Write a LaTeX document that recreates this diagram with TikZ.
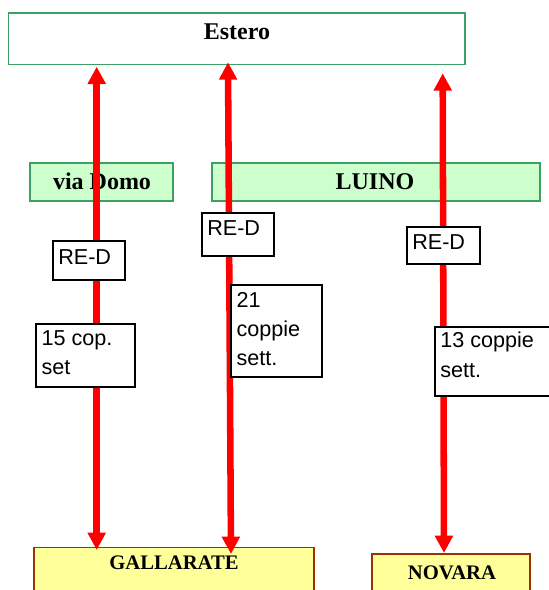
\documentclass[tikz,border=0pt]{standalone}
\usepackage{fontspec}
\setmainfont{Liberation Serif}
\newfontfamily\arialf{Liberation Sans}
\usetikzlibrary{arrows.meta,positioning,fit}

\definecolor{boxgreen}{RGB}{60,160,100}
\definecolor{lightgreen}{RGB}{204,255,204}
\definecolor{boxyellow}{RGB}{255,255,153}
\definecolor{boxbrown}{RGB}{153,51,0}

\tikzset{
  gbox/.style={draw=boxgreen,line width=1.1pt,inner sep=0pt},
  ybox/.style={draw=boxbrown,fill=boxyellow,line width=1.1pt,inner sep=0pt},
  wbox/.style={draw=black,fill=white,line width=1.1pt,inner sep=0pt},
  bigttl/.style={font=\bfseries\fontsize{18}{20}\selectfont,anchor=base,inner sep=0pt},
  smallttl/.style={font=\bfseries\fontsize{15.5}{18}\selectfont,anchor=base,inner sep=0pt},
  lbl/.style={font=\arialf\fontsize{16.2}{22}\selectfont,align=left,inner sep=0pt},
  biarrow/.style={draw=red,line width=4.9pt,
    {Triangle[width=13pt,length=13pt]}-{Triangle[width=13pt,length=13pt]}}
}

\begin{document}
\begin{tikzpicture}[x=0.75pt,y=-0.75pt]
\useasboundingbox (0,0) rectangle (549,590);
\clip (0,0) rectangle (549,590);

% boxes
\node[gbox,fill=white,fit={(8.7,13) (465,64.3)}] (estero) {};
\node[gbox,fill=lightgreen,fit={(30,163) (173,201)}] (domo) {};
\node[gbox,fill=lightgreen,fit={(212,163) (540,201)}] (luino) {};
\node[ybox,fit={(34,547.7) (314,600)}] (gall) {};
\node[ybox,fit={(372,554) (530,600)}] (novara) {};

\node[bigttl] (esterotxt) at (237,39) {Estero};
\node[bigttl] (domotxt) at (102,189) {via Domo};
\node[bigttl] (luinotxt) at (375,189) {LUINO};
\node[smallttl] (galltxt) at (174,569) {GALLARATE};
\node[smallttl] (novaratxt) at (452,579) {NOVARA};

% arrow ends
\coordinate (va) at (96.7,66.7);
\coordinate (vb) at (96.7,550);
\coordinate (la) at (228,62.3);
\coordinate (lb) at (231,554);
\coordinate (na) at (442.7,73.3);
\coordinate (nb) at (444,553);

\draw[biarrow] (va) -- (vb);
\draw[biarrow] (la) -- (lb);
\draw[biarrow] (na) -- (nb);

% labels on the lines
\node[wbox,fit={(53,241) (125,280)}] (red1) {};
\node[wbox,fit={(202,213) (274,256)}] (red2) {};
\node[wbox,fit={(407,227) (480,264)}] (red3) {};
\node[wbox,fit={(36,324) (135,387)}] (cop1) {};
\node[wbox,fit={(231,285) (322,377)}] (cop2) {};
\node[wbox,fit={(435,327) (560,396)}] (cop3) {};

\node[lbl,below right=6.5pt and 4.3pt of red1.north west] (red1txt) {RE-D};
\node[lbl,below right=6pt and 4.3pt of red2.north west] (red2txt) {RE-D};
\node[lbl,below right=6pt and 4.3pt of red3.north west] (red3txt) {RE-D};
\node[lbl,below right=5.3pt and 4.5pt of cop1.north west] (cop1txt) {15 cop.\\set};
\node[lbl,below right=5.6pt and 4.5pt of cop2.north west] (cop2txt) {21\\coppie\\sett.};
\node[lbl,below right=4.3pt and 4.3pt of cop3.north west] (cop3txt) {13 coppie\\sett.};

\end{tikzpicture}
\end{document}
